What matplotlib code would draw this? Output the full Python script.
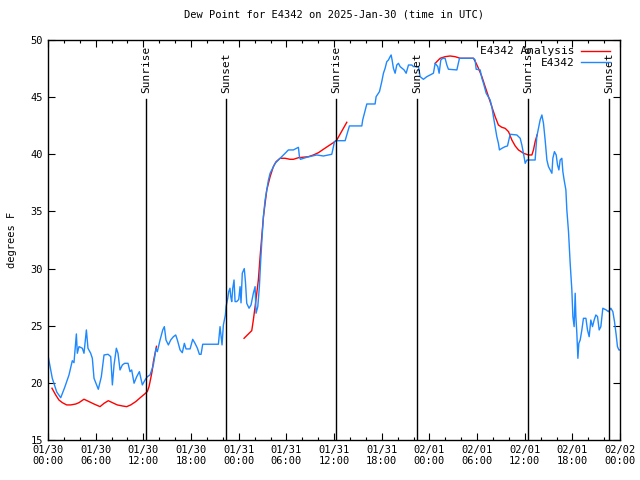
import numpy as np
import matplotlib
matplotlib.use("Agg")
import matplotlib.pyplot as plt
from matplotlib.ticker import MultipleLocator

plt.rcParams["font.family"] = ["DejaVu Sans Mono"]
plt.rcParams["font.size"] = 7.5

# hours since 2025-01-30 00:00 UTC
obs_hours = [
    0.0, 0.54, 1.1, 1.6, 2.1, 2.64, 3.06, 3.27, 3.57, 3.69, 3.9, 4.32, 4.53, 4.83,
    5.03, 5.37, 5.58, 5.79, 6.33, 6.71, 7.05, 7.55, 7.89, 8.1, 8.31, 8.6, 8.81,
    9.06, 9.36, 9.65, 10.07, 10.32, 10.53, 10.83, 11.16, 11.5, 11.87, 12.21, 12.5,
    12.84, 13.26, 13.6, 13.76, 14.1, 14.44, 14.64, 14.85, 15.15, 15.44, 15.78,
    16.07, 16.28, 16.62, 16.9, 17.16, 17.37, 17.88, 18.21, 18.5, 18.8, 19.05,
    19.26, 19.47, 21.44, 21.65, 21.78, 21.9, 22.07, 22.32, 22.41, 22.62, 22.74,
    22.9, 23.0, 23.12, 23.25, 23.41, 23.54, 23.75, 24.0, 24.17, 24.29, 24.45,
    24.7, 24.85, 25.01, 25.3, 25.55, 25.84, 26.06, 26.18, 26.4, 26.6, 26.77,
    26.94, 27.11, 27.32, 27.53, 27.74, 27.95, 28.16, 28.36, 28.58, 29.0, 29.42,
    29.83, 30.25, 30.88, 31.51, 31.64, 31.77, 32.57, 33.82, 34.66, 35.71, 35.92,
    36.04, 36.34, 37.39, 37.6, 37.93, 39.49, 39.6, 39.82, 40.12, 41.16, 41.29,
    41.71, 42.0, 42.21, 42.42, 42.63, 42.84, 43.05, 43.18, 43.3, 43.47, 43.68,
    43.89, 44.1, 44.31, 44.81, 45.07, 45.36, 45.78, 45.99, 46.62, 46.83, 47.24,
    47.67, 48.09, 48.5, 48.72, 49.05, 49.22, 49.43, 49.68, 49.97, 50.19, 50.39,
    51.45, 51.78, 53.54, 53.75, 53.88, 54.38, 54.6, 54.8, 55.14, 55.64, 55.85,
    56.05, 56.27, 56.48, 56.68, 56.81, 57.11, 57.53, 57.82, 57.99, 58.16, 59.0,
    59.42, 59.63, 59.83, 60.05, 60.26, 61.3, 61.51, 61.72, 61.93, 62.15, 62.35,
    62.56, 62.78, 62.98, 63.19, 63.41, 63.53, 63.73, 63.95, 64.12, 64.29, 64.45,
    64.66, 64.79, 64.95, 65.17, 65.29, 65.5, 65.71, 65.92, 66.05, 66.21, 66.34,
    66.43, 66.55, 66.68, 66.8, 66.97, 67.18, 67.38, 67.69, 67.89, 68.1, 68.31,
    68.52, 68.73, 68.94, 69.15, 69.36, 69.57, 69.82, 70.24, 70.53, 70.83, 71.08,
    71.29, 71.5, 71.66, 71.84, 72.0,
]
obs_dewpt = [
    22.4, 20.4, 19.2, 18.7, 19.6, 20.69, 21.94, 21.77, 24.28, 22.59, 23.17, 23.03,
    22.59, 24.63, 23.03, 22.59, 22.15, 20.4, 19.44, 20.54, 22.44, 22.5, 22.3,
    19.82, 21.57, 23.03, 22.59, 21.13, 21.57, 21.71, 21.71, 20.98, 21.13, 19.97,
    20.54, 20.98, 19.82, 20.25, 20.54, 20.69, 21.57, 23.03, 22.73, 23.75, 24.63,
    24.92, 23.75, 23.32, 23.75, 24.04, 24.19, 23.75, 22.88, 22.64, 23.46, 22.97,
    22.97, 23.81, 23.46, 23.03, 22.5, 22.5, 23.38, 23.38, 24.92, 24.04, 23.32,
    25.07, 25.94, 26.67, 27.4, 27.98, 28.28, 27.54, 27.11, 28.28, 29.0, 27.11,
    27.11, 27.3, 28.42, 27.0, 29.6, 30.0, 28.8, 26.96, 26.53, 26.82, 27.84, 28.42,
    26.09, 26.67, 28.42, 30.75, 32.79, 34.54, 36.0, 36.88, 37.75, 38.34, 38.63,
    38.92, 39.21, 39.5, 39.79, 40.08, 40.38, 40.38, 40.61, 39.79, 39.56, 39.74,
    39.94, 39.85, 40.0, 40.67, 41.1, 41.19, 41.19, 41.69, 42.48, 42.48, 43.0,
    43.59, 44.4, 44.4, 45.04, 45.48, 46.35, 47.09, 47.52, 48.1, 48.25, 48.54,
    48.69, 48.25, 47.52, 47.09, 47.81, 47.96, 47.67, 47.38, 47.09, 47.81, 47.81,
    47.67, 47.67, 46.79, 46.56, 46.79, 46.94, 47.09, 47.96, 47.67, 47.09, 48.25,
    48.4, 48.4, 47.81, 47.44, 47.38, 48.4, 48.4, 48.25, 47.44, 47.38, 46.65,
    46.21, 45.34, 44.75, 44.16, 43.29, 42.42, 41.54, 40.96, 40.38, 40.52, 40.67,
    40.73, 41.25, 41.75, 41.69, 41.4, 40.81, 40.09, 39.21, 39.5, 39.5, 41.54,
    42.27, 43.0, 43.44, 42.71, 41.25, 39.5, 38.92, 38.63, 38.34, 39.65, 40.23,
    39.94, 39.06, 38.63, 39.5, 39.65, 38.48, 37.75, 36.88, 35.13, 33.23, 30.46,
    28.13, 25.79, 24.92, 27.84, 25.79, 24.33, 22.15, 23.46, 23.75, 24.63, 25.65,
    25.65, 24.63, 24.04, 25.5, 24.92, 25.5, 25.94, 25.8, 24.63, 24.92, 26.53,
    26.38, 26.23, 26.53, 26.23, 25.35, 24.19, 23.17, 22.88, 22.88,
]

# analysis series, three pieces
ana_hours_1 = [0.5, 0.97, 1.38, 1.8, 2.35, 2.86, 3.49, 3.9, 4.53, 5.16, 5.79, 6.55,
               7.05, 7.59, 8.1, 8.72, 9.36, 9.9, 10.41, 11.04, 11.67, 12.17, 12.5,
               12.71, 12.93, 13.13, 13.26, 13.65]
ana_dewpt_1 = [19.53, 18.94, 18.5, 18.27, 18.07, 18.07, 18.15, 18.27, 18.57, 18.36,
               18.15, 17.92, 18.21, 18.44, 18.27, 18.07, 17.98, 17.92, 18.07, 18.36,
               18.74, 19.03, 19.24, 19.67, 20.4, 21.13, 21.85, 23.2]
ana_hours_2 = [24.67, 25.64, 25.84, 26.06, 26.27, 26.47, 26.69, 26.9, 27.11, 27.32,
               27.53, 27.95, 28.36, 28.7, 29.2, 29.83, 30.46, 30.88, 31.51, 32.77,
               33.4, 34.03, 34.66, 35.28, 35.92, 36.34, 37.6]
ana_dewpt_2 = [23.9, 24.57, 25.5, 26.67, 27.84, 29.0, 31.04, 32.79, 34.54, 35.71,
               36.88, 38.04, 38.92, 39.35, 39.65, 39.65, 39.56, 39.56, 39.7, 39.79,
               39.94, 40.14, 40.44, 40.73, 41.02, 41.25, 42.8]
ana_hours_3 = [48.72, 49.35, 49.97, 50.6, 51.23, 51.86, 53.54, 53.88, 54.17, 54.6,
               55.01, 55.43, 55.85, 56.27, 56.68, 57.11, 57.53, 57.95, 58.37, 58.79,
               59.2, 59.83, 60.46, 60.89, 61.09, 61.3, 61.55]
ana_dewpt_3 = [47.96, 48.4, 48.54, 48.6, 48.54, 48.4, 48.4, 47.96, 47.52, 46.79,
               45.92, 45.04, 44.16, 43.29, 42.56, 42.36, 42.27, 41.98, 41.25, 40.73,
               40.38, 40.09, 39.94, 39.94, 40.38, 41.1, 41.7]

sun_hours = [12.34, 22.4, 36.25, 46.45, 60.4, 70.6]
sun_names = ["Sunrise", "Sunset", "Sunrise", "Sunset", "Sunrise", "Sunset"]

xtick_labels = ["01/30\n00:00", "01/30\n06:00", "01/30\n12:00", "01/30\n18:00",
                "01/31\n00:00", "01/31\n06:00", "01/31\n12:00", "01/31\n18:00",
                "02/01\n00:00", "02/01\n06:00", "02/01\n12:00", "02/01\n18:00",
                "02/02\n00:00"]

ana_h = ana_hours_1 + [np.nan] + ana_hours_2 + [np.nan] + ana_hours_3
ana_d = ana_dewpt_1 + [np.nan] + ana_dewpt_2 + [np.nan] + ana_dewpt_3

fig = plt.figure(figsize=(6.4, 4.8), dpi=100)
ax = fig.add_axes([0.075, 0.0833, 0.894, 0.8334])

ax.plot(ana_h, ana_d, color="#ff0000", lw=1.0, label="E4342 Analysis")
ax.plot(obs_hours, obs_dewpt, color="#1e88ff", lw=1.0, label="E4342")

for h, name in zip(sun_hours, sun_names):
    ax.plot([h, h], [15, 44.8], color="black", lw=1.0)
    ax.text(h, 45.4, name, rotation=90, ha="center", va="bottom", fontsize=8)

ax.set_xlim(0, 72)
ax.set_ylim(15, 50)
ax.set_xticks(np.arange(0, 73, 6))
ax.set_xticklabels(xtick_labels)
ax.xaxis.set_minor_locator(MultipleLocator(2))
ax.yaxis.set_major_locator(MultipleLocator(5))
ax.tick_params(which="both", direction="in", top=True, right=True, labelsize=7.5,
               width=0.8)
ax.tick_params(which="major", length=5)
ax.tick_params(which="minor", length=2.5)
for s in ax.spines.values():
    s.set_linewidth(1.0)

ax.set_ylabel("degrees F", fontsize=7.5, labelpad=10)
ax.set_title("Dew Point for E4342 on 2025-Jan-30 (time in UTC)", fontsize=7.5, pad=16)
ax.legend(loc="upper right", bbox_to_anchor=(0.99, 0.995), frameon=False,
          markerfirst=False, fontsize=8, handlelength=2.6, borderaxespad=0.0,
          labelspacing=0.15, handletextpad=0.6)

fig.savefig("out.png", dpi=100)
